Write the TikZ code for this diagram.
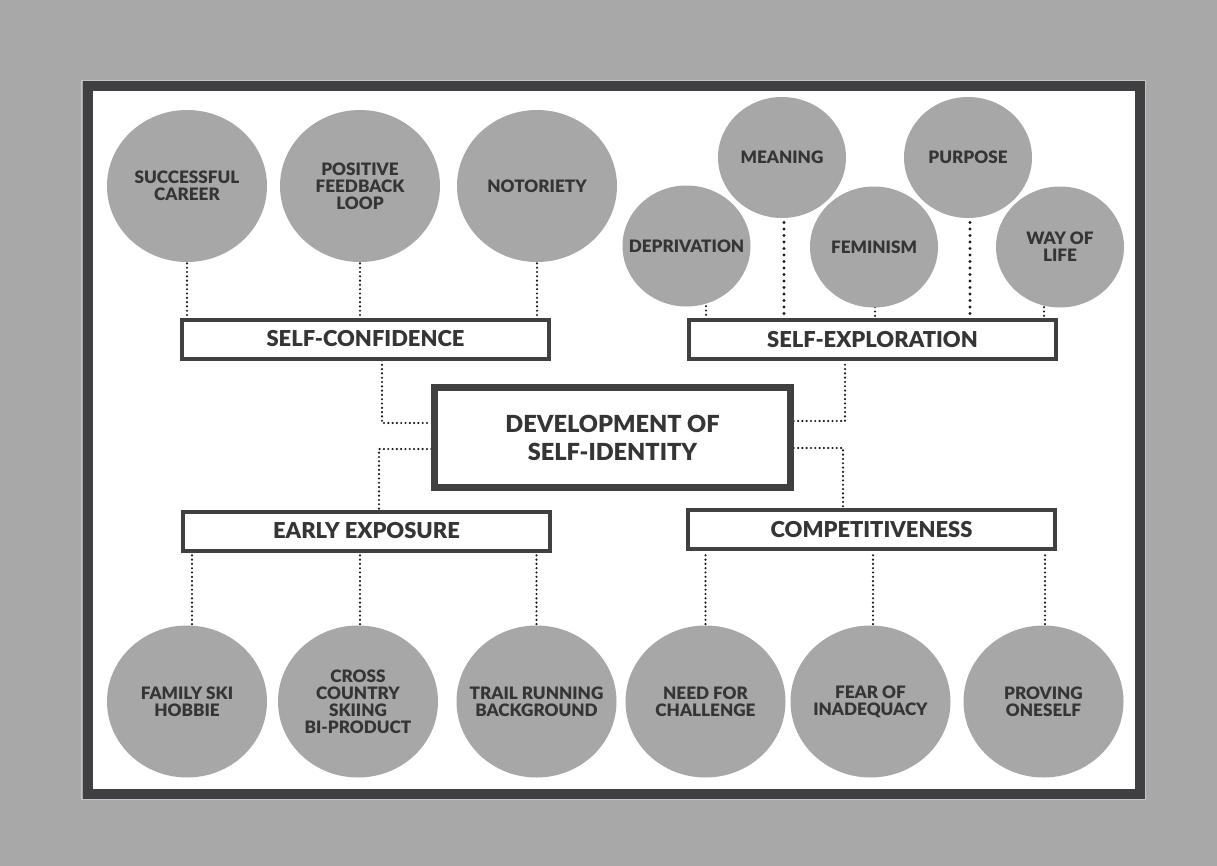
\documentclass[tikz,border=0pt]{standalone}
\usepackage{fontspec}
\setmainfont{Lato}[BoldFont={Lato Black}]
\usetikzlibrary{shapes.geometric}
\definecolor{bggray}{HTML}{A8A8A8}
\definecolor{bubc}{HTML}{A7A7A7}
\definecolor{framec}{HTML}{404042}
\definecolor{edgec}{HTML}{C4C4C4}
\definecolor{txtc}{HTML}{353535}
\definecolor{boxc}{HTML}{404040}
\definecolor{dotc}{HTML}{1A1A1A}
\pgfdeclarelayer{bg}
\pgfsetlayers{bg,main}
\begin{document}
\begin{tikzpicture}[x=1bp,y=-1bp,
  bubL/.style={ellipse, fill=bubc, minimum width=160bp, minimum height=152bp, inner sep=0pt},
  bubS/.style={ellipse, fill=bubc, minimum width=128bp, minimum height=121bp, inner sep=0pt},
  btxt/.style={text=txtc, font=\bfseries\fontsize{17.2}{17}\selectfont, align=center, inner sep=0pt},
  catbox/.style={draw=boxc, line width=4bp, fill=white, minimum width=367bp, minimum height=39bp, inner sep=0pt, text=txtc, font=\bfseries\fontsize{22}{26}\selectfont},
  mainbox/.style={draw=boxc, line width=6.5bp, fill=white, minimum width=356bp, minimum height=100bp, inner sep=0pt, text=txtc, align=center, font=\bfseries\fontsize{23.6}{28}\selectfont},
  dots/.style={draw=dotc, line width=2.4bp, dash pattern=on 0bp off 4.3bp, line cap=round},
  bigdots/.style={draw=dotc, line width=3.4bp, dash pattern=on 0bp off 6.5bp, line cap=round}]
\useasboundingbox (0,0) rectangle (1217,866);
\begin{pgfonlayer}{bg}
  \fill[bggray] (0,0) rectangle (1217,866);
  \draw[edgec, line width=1.2bp] (81.5,80.8) rectangle (1145.5,799.8);
  \draw[framec, line width=10bp, fill=white] (87.5,86.2) rectangle (1139.7,794.3);
\end{pgfonlayer}

% top-left bubbles
\node[bubL] (c1) at (187,186) {};
\node[bubL] (c2) at (360,186) {};
\node[bubL] (c3) at (537,186) {};
\node[btxt] (t1) at (c1) {SUCCESSFUL\\CAREER};
\node[btxt] (t2) at (c2) {POSITIVE\\FEEDBACK\\LOOP};
\node[btxt] (t3) at (c3) {NOTORIETY};

% top-right bubbles
\node[bubS] (dep) at (686.5,246) {};
\node[bubS] (mea) at (782,157.5) {};
\node[bubS] (fem) at (874,247) {};
\node[bubS] (pur) at (968,157.5) {};
\node[bubS] (way) at (1060,247) {};
\node[btxt] (tdep) at (dep) {DEPRIVATION};
\node[btxt] (tmea) at (mea) {MEANING};
\node[btxt] (tfem) at (fem) {FEMINISM};
\node[btxt] (tpur) at (pur) {PURPOSE};
\node[btxt] (tway) at (way) {WAY OF\\LIFE};

% category boxes
\node[catbox] (sc) at (365.5,339) {SELF-CONFIDENCE};
\node[catbox] (se) at (872.5,339.5) {SELF-EXPLORATION};
\node[catbox] (ee) at (366.5,531) {EARLY EXPOSURE};
\node[catbox] (co) at (871.5,529.5) {COMPETITIVENESS};
\node[mainbox] (dev) at (612.5,437.5) {DEVELOPMENT OF\\SELF-IDENTITY};

% bottom bubbles
\node[bubL] (f1) at (187,701.5) {};
\node[bubL] (f2) at (358,701.5) {};
\node[bubL] (f3) at (536.5,701.5) {};
\node[bubL] (g1) at (705.5,701.5) {};
\node[bubL] (g2) at (870.5,701.5) {};
\node[bubL] (g3) at (1043.5,701.5) {};
\node[btxt] (tf1) at (f1) {FAMILY SKI\\HOBBIE};
\node[btxt] (tf2) at (f2) {CROSS\\COUNTRY\\SKIING\\BI-PRODUCT};
\node[btxt] (tf3) at (f3) {TRAIL RUNNING\\BACKGROUND};
\node[btxt] (tg1) at (g1) {NEED FOR\\CHALLENGE};
\node[btxt] (tg2) at (g2) {FEAR OF\\INADEQUACY};
\node[btxt] (tg3) at (g3) {PROVING\\ONESELF};

\coordinate (j1) at (382,423);
\coordinate (j2) at (379,449);
\coordinate (j3) at (845,421);
\coordinate (j4) at (843,448);

\begin{pgfonlayer}{bg}
  \draw[dots] (c1.center) -- (c1.center |- sc.north);
  \draw[dots] (c2.center) -- (c2.center |- sc.north);
  \draw[dots] (c3.center) -- (c3.center |- sc.north);
  \draw[dots] ([xshift=19.5bp]dep.center) -- ([xshift=19.5bp]dep.center |- se.north);
  \draw[bigdots] ([xshift=2bp]mea.center) -- ([xshift=2bp]mea.center |- se.north);
  \draw[dots] ([xshift=1bp]fem.center) -- ([xshift=1bp]fem.center |- se.north);
  \draw[bigdots] ([xshift=2bp]pur.center) -- ([xshift=2bp]pur.center |- se.north);
  \draw[dots] ([xshift=-16bp]way.center) -- ([xshift=-16bp]way.center |- se.north);
  \draw[dots] (sc.south -| j1) -- (j1) -- (j1 -| dev.west);
  \draw[dots] (j2 -| dev.west) -- (j2) -- (j2 |- ee.north);
  \draw[dots] (j3 -| dev.east) -- (j3) -- (j3 |- se.south);
  \draw[dots] (j4 -| dev.east) -- (j4) -- (j4 |- co.north);
  \draw[dots] ([xshift=5bp]f1.center) -- ([xshift=5bp]f1.center |- ee.south);
  \draw[dots] ([xshift=2bp]f2.center) -- ([xshift=2bp]f2.center |- ee.south);
  \draw[dots] (f3.center) -- (f3.center |- ee.south);
  \draw[dots] (g1.center) -- (g1.center |- co.south);
  \draw[dots] ([xshift=2.5bp]g2.center) -- ([xshift=2.5bp]g2.center |- co.south);
  \draw[dots] ([xshift=1.5bp]g3.center) -- ([xshift=1.5bp]g3.center |- co.south);
\end{pgfonlayer}
\end{tikzpicture}
\end{document}
